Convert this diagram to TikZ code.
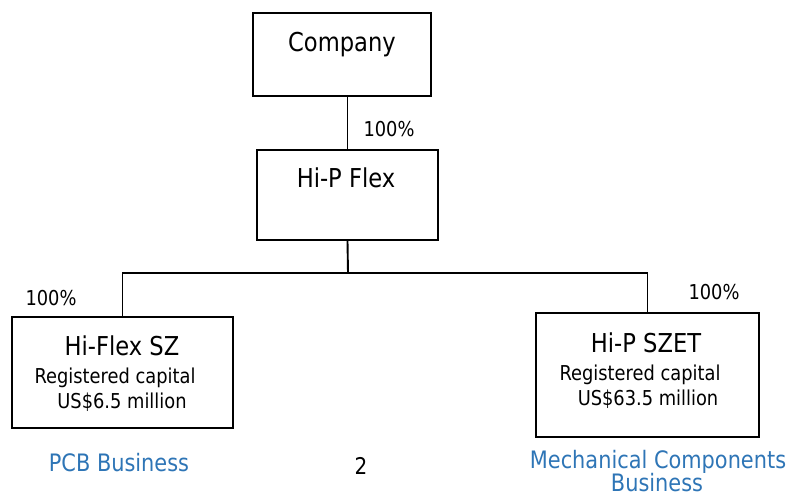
\documentclass[tikz,border=0pt]{standalone}
\usepackage{fontspec}
\setmainfont[FakeStretch=0.87]{DejaVu Sans}
\definecolor{bizblue}{RGB}{46,117,182}
\tikzset{
  box/.style={draw=black, line width=1.9pt, inner sep=0pt},
  big/.style={font=\fontsize{26}{30}\selectfont, anchor=base, inner sep=0pt},
  small/.style={font=\fontsize{20.5}{24}\selectfont, anchor=base, inner sep=0pt},
  biz/.style={font=\fontsize{24}{28}\selectfont, anchor=base, inner sep=0pt, text=bizblue},
  link/.style={line width=1.9pt}
}
\begin{document}
\begin{tikzpicture}[x=1pt,y=-1pt]
\useasboundingbox (0,0) rectangle (787,497);
% boxes
\node[box, minimum width=178pt, minimum height=83pt] (company) at (342,54.5) {};
\node[box, minimum width=181pt, minimum height=90pt] (flex) at (347.5,195) {};
\node[box, minimum width=221pt, minimum height=111pt] (sz) at (122.5,372.5) {};
\node[box, minimum width=223pt, minimum height=124pt] (szet) at (647.5,375) {};
% texts
\node[big] (tcompany) at (342,52) {Company};
\node[big] (tflex) at (346,188) {Hi-P Flex};
\node[big] (tsz) at (122,355) {Hi-Flex SZ};
\node[small] (tszcap) at (115,383) {Registered capital};
\node[small] (tszus) at (122,408) {US\$6.5 million};
\node[big] (tszet) at (646,352) {Hi-P SZET};
\node[small] (tszetcap) at (640,380) {Registered capital};
\node[small] (tszetus) at (648,405) {US\$63.5 million};
\node[small] (pcttop) at (389,137) {100\%};
\node[small] (pctleft) at (51,305) {100\%};
\node[small] (pctright) at (714,299) {100\%};
\node[biz] (pcb) at (119,471) {PCB Business};
\node[biz] (mech) at (658,468) {Mechanical Components};
\node[biz] (mechb) at (657,491) {Business};
\node[big, font=\fontsize{23}{26}\selectfont] (page) at (361,474) {2};
% connectors
\coordinate (bar) at (348,273);
\draw[link] (flex.north) -- (flex.north |- company.south);
\draw[link] (flex.south) -- (bar);
\draw[link] (sz.north) |- (bar);
\draw[link] (szet.north) |- (bar);
\end{tikzpicture}
\end{document}
